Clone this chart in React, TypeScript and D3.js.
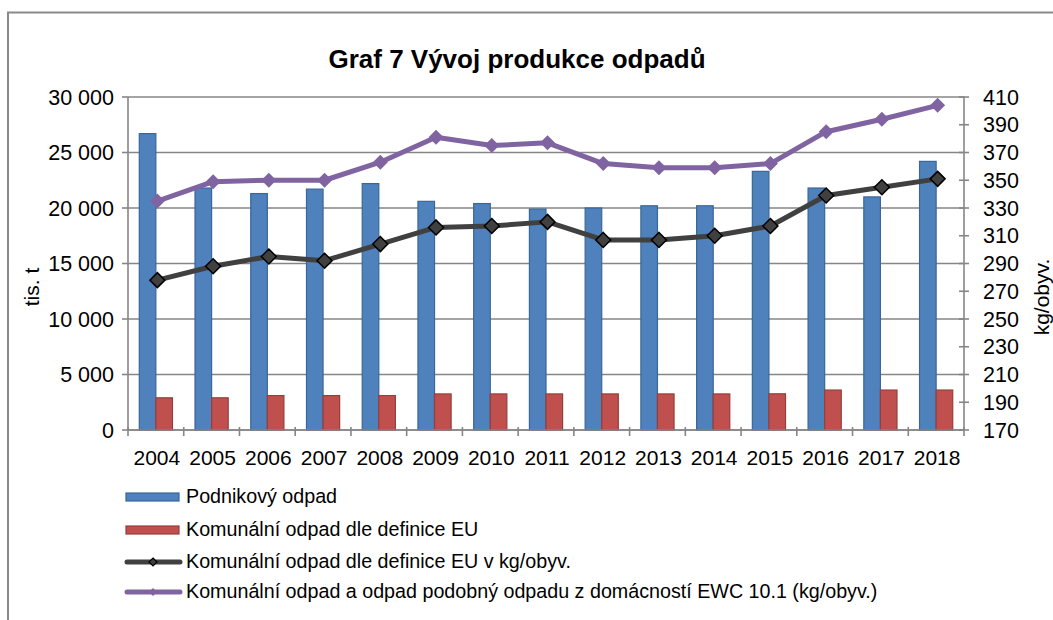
import * as d3 from 'd3';

const years = ['2004', '2005', '2006', '2007', '2008', '2009', '2010', '2011', '2012', '2013', '2014', '2015', '2016', '2017', '2018'];
// tis. t
const podnikovy = [26700, 21800, 21300, 21700, 22200, 20600, 20400, 19900, 20000, 20200, 20200, 23300, 21800, 21000, 24200];
const komunalni = [2900, 2900, 3100, 3100, 3100, 3250, 3250, 3250, 3250, 3250, 3250, 3260, 3600, 3600, 3600];
// kg/obyv.
const komunalniKg = [278, 288, 295, 292, 304, 316, 317, 320, 307, 307, 310, 317, 339, 345, 351];
const ewcKg = [335, 349, 350, 350, 363, 381, 375, 377, 362, 359, 359, 362, 385, 394, 404];

const leftTicks = [0, 5000, 10000, 15000, 20000, 25000, 30000];
const rightTicks = [170, 190, 210, 230, 250, 270, 290, 310, 330, 350, 370, 390, 410];

const legendItems = [
  { label: 'Podnikový odpad', kind: 'bar', color: '#4F81BD', stroke: '#3A6699' },
  { label: 'Komunální odpad dle definice EU', kind: 'bar', color: '#C0504D', stroke: '#983D3A' },
  { label: 'Komunální odpad dle definice EU v kg/obyv.', kind: 'line', color: '#404040', stroke: '#000' },
  { label: 'Komunální odpad a odpad podobný odpadu z domácností EWC 10.1 (kg/obyv.)', kind: 'line', color: '#8064A2', stroke: 'none' },
];

const W = 1053;
const H = 620;
const left = 128;
const right = 964;
const top = 97;
const bottom = 430;
const font = 'Liberation Sans, Arial, sans-serif';
const grid = '#868686';

const fmt = (v: number) => d3.format(',')(v).replace(/,/g, ' ');

export default function App() {
  const x = d3.scaleBand<string>().domain(years).range([left, right]).padding(0);
  const xSub = d3.scaleBand<string>().domain(['p', 'k']).range([0, x.bandwidth()]).paddingInner(0).paddingOuter(0.68);
  const yL = d3.scaleLinear().domain([0, 30000]).range([bottom, top]);
  const yR = d3.scaleLinear().domain([170, 410]).range([bottom, top]);
  const cx = (y: string) => (x(y) ?? 0) + x.bandwidth() / 2 + 1.5;

  const line = d3.line<number>().x((_, i) => cx(years[i])).y(v => yR(v));
  const diamond = (s: number) => `M0,${-s}L${s},0L0,${s}L${-s},0Z`;

  const legendBase = [503, 536, 568, 598];

  return (
    <svg width={W} height={H} style={{ position: 'absolute', left: 0, top: 0, background: '#fff' }} fontFamily={font}>
      <rect x={0} y={0} width={W} height={H} fill="#fff" />
      {/* frame */}
      <path d={`M8,${H}V12.5H${W}`} fill="none" stroke="#898989" strokeWidth={2} />

      <text x={517} y={68} textAnchor="middle" fontSize={26} fontWeight="bold">Graf 7 Vývoj produkce odpadů</text>

      {/* gridlines */}
      {leftTicks.map(t => (
        <line key={t} x1={left} x2={right} y1={yL(t)} y2={yL(t)} stroke={grid} strokeWidth={1.6} />
      ))}

      {/* bars */}
      {years.map((yr, i) => (
        <g key={yr}>
          <rect x={(x(yr) ?? 0) + (xSub('p') ?? 0)} y={yL(podnikovy[i])} width={xSub.bandwidth()} height={bottom - yL(podnikovy[i])}
            fill="#4F81BD" stroke="#3A6699" strokeWidth={1.2} />
          <rect x={(x(yr) ?? 0) + (xSub('k') ?? 0)} y={yL(komunalni[i])} width={xSub.bandwidth()} height={bottom - yL(komunalni[i])}
            fill="#C0504D" stroke="#983D3A" strokeWidth={1.2} />
        </g>
      ))}

      {/* axes */}
      <line x1={left} x2={left} y1={top} y2={bottom} stroke={grid} strokeWidth={1.6} />
      <line x1={right} x2={right} y1={top} y2={bottom} stroke={grid} strokeWidth={1.6} />
      <line x1={left} x2={right} y1={bottom} y2={bottom} stroke={grid} strokeWidth={1.6} />
      {leftTicks.map(t => (
        <g key={t}>
          <line x1={left - 6} x2={left} y1={yL(t)} y2={yL(t)} stroke={grid} strokeWidth={1.6} />
          <text x={114} y={yL(t)} dy="0.36em" textAnchor="end" fontSize={21.5}>{fmt(t)}</text>
        </g>
      ))}
      {rightTicks.map(t => (
        <g key={t}>
          <line x1={right - 5} x2={right + 5} y1={yR(t)} y2={yR(t)} stroke={grid} strokeWidth={1.6} />
          <text x={983} y={yR(t)} dy="0.36em" textAnchor="start" fontSize={21.5}>{t}</text>
        </g>
      ))}
      {[...years, ''].map((yr, i) => {
        const xx = left + i * x.bandwidth();
        return <line key={i} x1={xx} x2={xx} y1={bottom - 3} y2={bottom + 6} stroke={grid} strokeWidth={1.6} />;
      })}
      {years.map(yr => (
        <text key={yr} x={(x(yr) ?? 0) + x.bandwidth() / 2 + 1} y={465} textAnchor="middle" fontSize={21}>{yr}</text>
      ))}

      <text transform="translate(39,287) rotate(-90)" textAnchor="middle" fontSize={21}>tis. t</text>
      <text transform="translate(1049,297) rotate(-90)" textAnchor="middle" fontSize={21}>kg/obyv.</text>

      {/* lines */}
      <path d={line(komunalniKg) ?? ''} fill="none" stroke="#404040" strokeWidth={5} strokeLinejoin="round" />
      {komunalniKg.map((v, i) => (
        <path key={i} d={diamond(7.5)} transform={`translate(${cx(years[i])},${yR(v)})`} fill="#404040" stroke="#000" strokeWidth={1.5} />
      ))}
      <path d={line(ewcKg) ?? ''} fill="none" stroke="#8064A2" strokeWidth={5} strokeLinejoin="round" />
      {ewcKg.map((v, i) => (
        <path key={i} d={diamond(7.5)} transform={`translate(${cx(years[i])},${yR(v)})`} fill="#8064A2" />
      ))}

      {/* legend */}
      {legendItems.map((it, i) => {
        const yc = legendBase[i] - 6;
        return (
          <g key={it.label}>
            {it.kind === 'bar' ? (
              <rect x={126} y={yc - 4} width={53} height={8} fill={it.color} stroke={it.stroke} strokeWidth={1.2} />
            ) : (
              <g>
                <line x1={127} x2={180} y1={yc} y2={yc} stroke={it.color} strokeWidth={5} strokeLinecap="round" />
                <path d={diamond(4)} transform={`translate(153,${yc})`} fill={it.color} stroke={it.stroke} strokeWidth={1.2} />
              </g>
            )}
            <text x={186} y={legendBase[i]} fontSize={19.7}>{it.label}</text>
          </g>
        );
      })}
    </svg>
  );
}
